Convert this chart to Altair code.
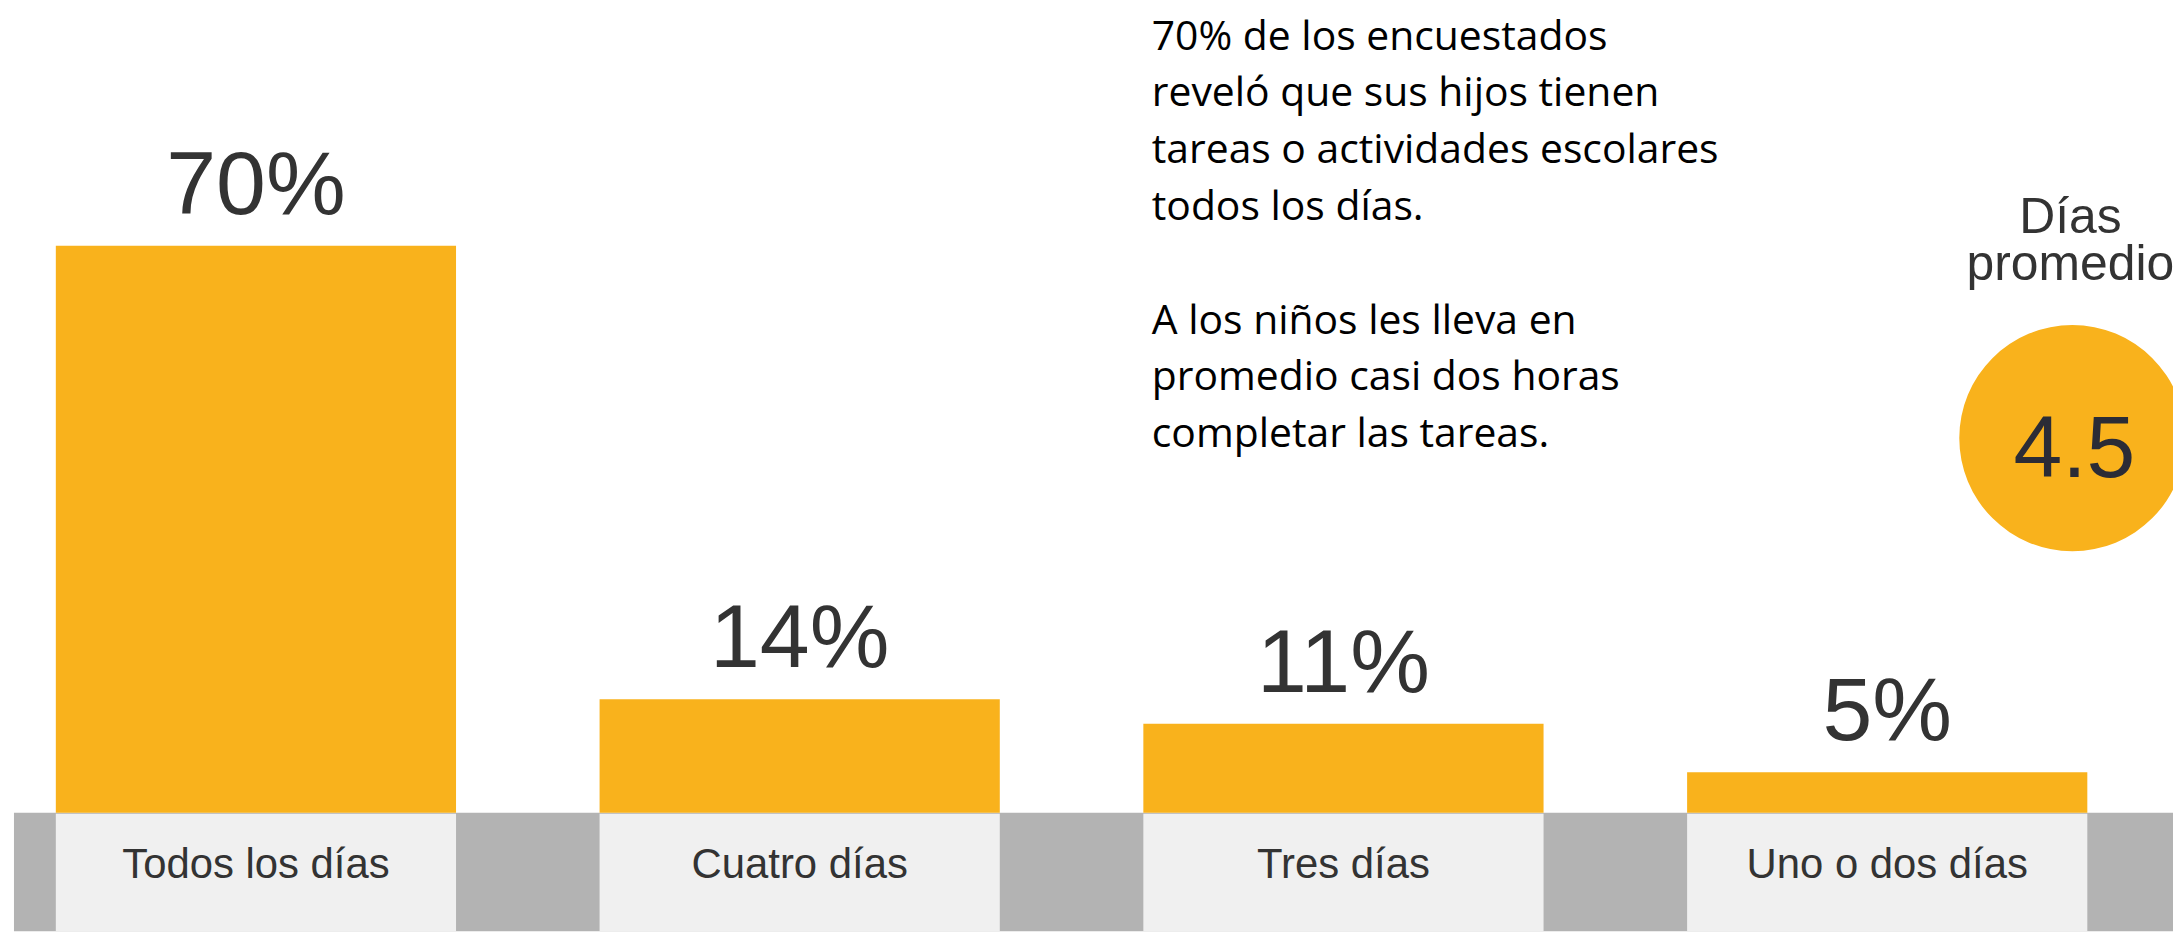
import altair as alt
import pandas as pd

# ---- data ----
categories = ["Todos los días", "Cuatro días", "Tres días", "Uno o dos días"]
shares = [70, 14, 11, 5]
avg_days = 4.5
avg_title = ["Días", "promedio"]
note_para1 = [
    "70% de los encuestados",
    "reveló que sus hijos tienen",
    "tareas o actividades escolares",
    "todos los días.",
]
note_para2 = [
    "A los niños les lleva en",
    "promedio casi dos horas",
    "completar las tareas.",
]

df = pd.DataFrame({"cat": categories, "share": shares})
df["label"] = [f"{v}%" for v in shares]
one = pd.DataFrame({"avg": [avg_days]})
one["avg_label"] = one["avg"].map(lambda v: f"{v}")

W, H = 2173, 925
BASE = 806
BAR = "#F9B21C"
DARK = "#333333"
LH = 57

xenc = alt.X("cat:N", sort=categories, axis=None,
             scale=alt.Scale(range=[48, 2087], paddingInner=0.264, paddingOuter=0))
yscale = alt.Scale(domain=[0, 100], range=[BASE, BASE - 813])

base = alt.Chart(df)

band = alt.Chart(one).mark_rect(color="#b3b3b3").encode(
    x=alt.value(6), x2=alt.value(W), y=alt.value(BASE), y2=alt.value(H)
)
cells = base.mark_bar(color="#f0f0f0").encode(
    x=xenc, y=alt.value(BASE + 1), y2=alt.value(H)
)
bars = base.mark_bar(color=BAR).encode(
    x=xenc, y=alt.Y("share:Q", scale=yscale, axis=None)
)
values = base.mark_text(
    font="Liberation Sans", fontSize=90, color=DARK, baseline="alphabetic", dy=-32
).encode(x=xenc, y=alt.Y("share:Q", scale=yscale, axis=None), text="label:N")
cat_labels = base.mark_text(
    font="Liberation Sans", fontSize=42, color=DARK, baseline="alphabetic"
).encode(x=xenc, y=alt.value(872), text="cat:N")

note_style = dict(font="Open Sans", fontSize=41, color="#000000", align="left",
                  baseline="alphabetic", lineHeight=LH)
note1 = alt.Chart(one).mark_text(**note_style).encode(
    x=alt.value(1148), y=alt.value(40), text=alt.value(note_para1))
note2 = alt.Chart(one).mark_text(**note_style).encode(
    x=alt.value(1148), y=alt.value(40 + 5 * LH), text=alt.value(note_para2))

circle = alt.Chart(one).mark_point(
    shape="circle", filled=True, size=227 * 227, color=BAR, opacity=1
).encode(x=alt.value(2072), y=alt.value(430))
avg_text = alt.Chart(one).mark_text(
    font="Liberation Sans", fontSize=88, color="#2b2c36", baseline="alphabetic"
).encode(x=alt.value(2074), y=alt.value(469), text="avg_label:N")
avg_head = alt.Chart(one).mark_text(
    font="Liberation Sans", fontSize=50, color=DARK, baseline="alphabetic", lineHeight=47
).encode(x=alt.value(2070), y=alt.value(224), text=alt.value(avg_title))

chart = alt.layer(
    band, cells, bars, values, cat_labels, note1, note2, circle, avg_text, avg_head
).properties(
    width=W, height=H, padding=0, background="white",
    autosize=alt.AutoSizeParams(type="none")
).configure_view(stroke=None)

chart.save("out.html", embed_options={"renderer": "svg", "actions": False})
